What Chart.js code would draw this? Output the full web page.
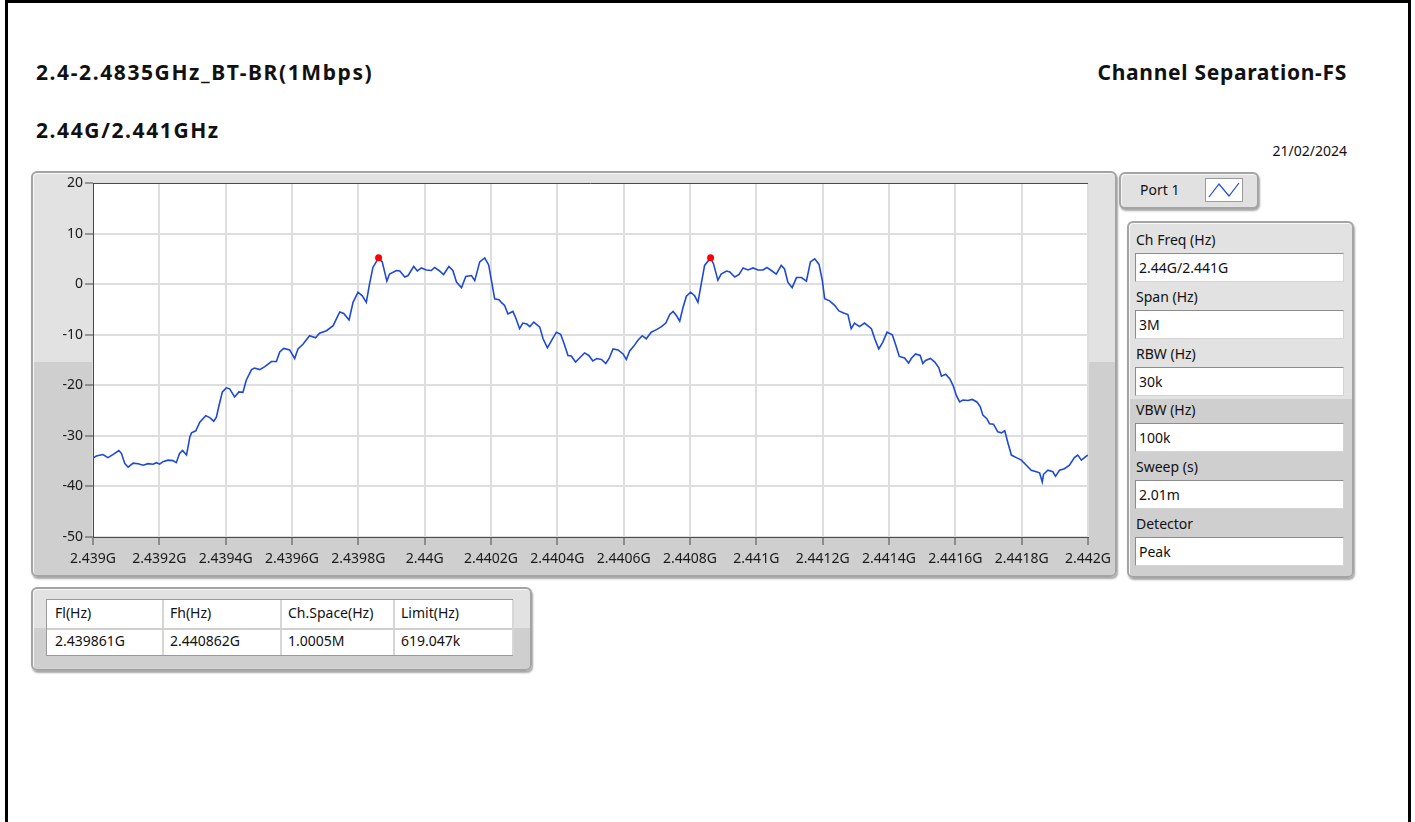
<!DOCTYPE html>
<html>
<head>
<meta charset="utf-8">
<script src="https://cdn.jsdelivr.net/npm/chart.js@4.4.1/dist/chart.umd.min.js"></script>
<style>
  html, body { margin: 0; padding: 0; background: #fff; }
  body { width: 1415px; height: 822px; position: relative; overflow: hidden;
         font-family: "Noto Sans", sans-serif; color: #111; }
  .frame { position: absolute; left: 5px; top: 0; width: 1406px; height: 840px;
           box-sizing: border-box; border: 3px solid #000; }
  .title { position: absolute; font-weight: bold; font-size: 21px; line-height: 24px; white-space: nowrap; }
  .date { position: absolute; right: 68px; top: 143px; font-size: 14px; line-height: 16px; }
  .panel { position: absolute; box-sizing: border-box; border: 2px solid #a4a4a4; border-radius: 6px;
           background: linear-gradient(#e2e2e2 0, #e2e2e2 47%, #cfcfcf 47%, #cfcfcf 100%);
           box-shadow: inset 1px 1px 0 #f7f7f7, 1px 2px 2px rgba(0,0,0,0.35); }
  .abs { position: absolute; white-space: nowrap; font-size: 14px; }
  .field { position: absolute; box-sizing: border-box; background: #fff;
           border: 1px solid #8c8c8c; border-right-color: #d4d4d4; border-bottom-color: #d4d4d4;
           font-size: 14px; line-height: 27px; padding-left: 3px; }
  .cell { position: absolute; font-size: 14px; line-height: 28px; white-space: nowrap; }
</style>
</head>
<body>
<div class="frame"></div>

<div class="title" style="left:36px;top:60px;letter-spacing:1.6px">2.4-2.4835GHz_BT-BR(1Mbps)</div>
<div class="title" style="left:36px;top:118px;letter-spacing:1.6px">2.44G/2.441GHz</div>
<div class="title" style="right:68px;top:60px;letter-spacing:0.7px">Channel Separation-FS</div>
<div class="date">21/02/2024</div>

<!-- spectrum graph -->
<div class="panel" style="left:31px;top:171px;width:1086px;height:406px"></div>
<div style="position:absolute;left:31px;top:171px;width:1086px;height:406px">
  <canvas id="spectrum" width="1086" height="406"></canvas>
</div>

<!-- trace legend -->
<div class="panel" style="left:1119px;top:172px;width:140px;height:37px;background:#e1e1e1"></div>
<div class="abs" style="left:1140px;top:180px;line-height:20px">Port 1</div>
<div style="position:absolute;left:1205px;top:178px;width:38px;height:24px;box-sizing:border-box;background:#fff;border:1px solid #9a9a9a">
  <svg width="36" height="22"><polyline points="3,18 13,5 23,17 33,4" fill="none" stroke="#1e48d8" stroke-width="1.2"/></svg>
</div>

<!-- analyzer settings -->
<div class="panel" id="settings" style="left:1127px;top:221px;width:227px;height:357px;background:linear-gradient(#e2e2e2 0, #e2e2e2 50%, #cfcfcf 50%, #cfcfcf 100%)"></div>

<!-- result table -->
<div class="panel" style="left:31px;top:587px;width:501px;height:84px;background:linear-gradient(#e2e2e2 0, #e2e2e2 49%, #cfcfcf 49%, #cfcfcf 100%)"></div>
<div id="results" style="position:absolute;left:46px;top:599px;width:467px;height:57px;box-sizing:border-box;background:#fff;border:1px solid #9a9a9a"></div>

<script>
// Spectrum trace, frequency offset from 2439 MHz and level in dBm
const startMHz = 2439;
const offsetMHz = [
  0.000, 0.010, 0.030, 0.045, 0.060, 0.078, 0.086, 0.096, 0.106, 0.121,
  0.136, 0.151, 0.166, 0.181, 0.191, 0.201, 0.211, 0.226, 0.241, 0.251,
  0.261, 0.270, 0.282, 0.292, 0.297, 0.310, 0.322, 0.340, 0.352, 0.364,
  0.372, 0.380, 0.390, 0.402, 0.412, 0.427, 0.440, 0.452, 0.462, 0.478,
  0.487, 0.503, 0.518, 0.538, 0.553, 0.563, 0.575, 0.593, 0.608, 0.618,
  0.633, 0.653, 0.671, 0.683, 0.704, 0.724, 0.744, 0.756, 0.772, 0.784,
  0.799, 0.812, 0.824, 0.834, 0.844, 0.861, 0.872, 0.886, 0.894, 0.915,
  0.925, 0.940, 0.950, 0.967, 0.978, 0.990, 1.005, 1.020, 1.030, 1.043,
  1.057, 1.073, 1.085, 1.096, 1.111, 1.124, 1.141, 1.151, 1.166, 1.181,
  1.193, 1.203, 1.211, 1.224, 1.231, 1.241, 1.251, 1.266, 1.276, 1.286,
  1.296, 1.308, 1.317, 1.329, 1.347, 1.357, 1.370, 1.382, 1.397, 1.410,
  1.422, 1.432, 1.442, 1.455, 1.467, 1.482, 1.495, 1.507, 1.519, 1.533,
  1.546, 1.556, 1.568, 1.583, 1.598, 1.608, 1.618, 1.630, 1.643, 1.656,
  1.668, 1.683, 1.699, 1.714, 1.727, 1.739, 1.749, 1.759, 1.769, 1.779,
  1.789, 1.802, 1.814, 1.824, 1.834, 1.844, 1.862, 1.871, 1.884, 1.894,
  1.910, 1.920, 1.935, 1.948, 1.960, 1.975, 1.990, 2.005, 2.020, 2.032,
  2.045, 2.060, 2.075, 2.085, 2.095, 2.108, 2.121, 2.136, 2.151, 2.163,
  2.176, 2.189, 2.199, 2.206, 2.221, 2.236, 2.249, 2.263, 2.276, 2.286,
  2.296, 2.311, 2.326, 2.347, 2.357, 2.369, 2.381, 2.394, 2.410, 2.420,
  2.431, 2.447, 2.459, 2.467, 2.480, 2.494, 2.502, 2.510, 2.525, 2.538,
  2.550, 2.558, 2.571, 2.583, 2.593, 2.603, 2.613, 2.623, 2.638, 2.651,
  2.665, 2.675, 2.683, 2.695, 2.703, 2.715, 2.728, 2.739, 2.749, 2.759,
  2.769, 2.784, 2.799, 2.814, 2.829, 2.844, 2.854, 2.862, 2.866, 2.879,
  2.894, 2.902, 2.914, 2.929, 2.944, 2.959, 2.969, 2.980, 2.995, 3.000
];
const levelDbm = [
  -34.4, -34.0, -33.7, -34.3, -33.7, -32.9, -33.5, -35.5, -36.2, -35.4,
  -35.5, -35.8, -35.5, -35.6, -35.3, -35.6, -35.1, -34.8, -34.9, -35.3,
  -33.5, -32.9, -33.8, -30.2, -29.4, -29.0, -27.3, -26.0, -26.4, -27.1,
  -26.3, -24.0, -21.3, -20.5, -20.7, -22.3, -21.3, -21.4, -19.0, -16.9,
  -16.6, -16.9, -16.3, -15.3, -15.3, -13.4, -12.7, -13.0, -14.7, -12.8,
  -11.9, -10.2, -10.6, -9.7, -9.2, -8.2, -5.5, -5.8, -7.1, -3.6,
  -1.6, -2.3, -3.6, 0.1, 3.3, 5.2, 4.4, 0.6, 2.0, 2.7,
  2.6, 1.4, 1.7, 3.5, 2.6, 3.2, 2.8, 2.7, 3.3, 2.7,
  1.9, 3.5, 2.7, 0.4, -0.7, 1.5, 1.7, 0.7, 4.4, 5.2,
  3.8, 0.1, -2.9, -3.1, -3.6, -4.2, -5.9, -5.4, -6.9, -8.8,
  -7.7, -7.9, -8.4, -7.5, -8.5, -10.8, -12.6, -11.2, -9.5, -9.9,
  -12.1, -14.1, -14.2, -15.4, -14.6, -13.6, -14.1, -15.2, -14.7, -14.9,
  -15.7, -14.7, -12.8, -13.0, -13.8, -14.9, -13.2, -12.3, -11.1, -10.2,
  -10.8, -9.5, -9.0, -8.4, -7.7, -6.0, -5.4, -6.2, -7.3, -4.6,
  -2.4, -1.6, -2.3, -3.6, 0.1, 3.7, 5.2, 4.0, 0.8, 2.0,
  2.6, 2.4, 1.4, 1.9, 3.2, 2.8, 3.2, 2.8, 2.8, 3.3,
  2.7, 2.0, 3.7, 3.0, 0.4, -0.7, 1.3, 1.3, 0.6, 4.4,
  5.0, 3.9, 0.7, -2.9, -3.3, -4.2, -5.3, -5.7, -6.0, -8.8,
  -7.7, -8.4, -7.7, -8.8, -10.8, -12.8, -11.5, -9.5, -10.0, -12.0,
  -14.3, -14.6, -15.6, -14.7, -13.8, -14.1, -15.7, -15.1, -14.7, -15.4,
  -16.5, -18.2, -17.8, -18.7, -20.0, -22.0, -23.3, -22.9, -23.0, -22.8,
  -23.3, -24.2, -25.9, -26.6, -27.6, -27.7, -29.2, -29.4, -29.0, -31.5,
  -33.8, -34.3, -34.8, -35.8, -36.8, -37.1, -37.3, -39.1, -37.6, -36.8,
  -37.1, -38.0, -36.8, -36.5, -35.8, -34.3, -33.8, -34.8, -34.0, -33.8
];

// Fl / Fh markers (MHz, dBm)
const markerMHz = [2439.861, 2440.862];
const markerDbm = [5.2, 5.2];

// Axis ticks
const xTickMHz = [2439.0, 2439.2, 2439.4, 2439.6, 2439.8, 2440.0, 2440.2, 2440.4,
                  2440.6, 2440.8, 2441.0, 2441.2, 2441.4, 2441.6, 2441.8, 2442.0];
const xTickLabels = ['2.439G', '2.4392G', '2.4394G', '2.4396G', '2.4398G', '2.44G', '2.4402G', '2.4404G',
                     '2.4406G', '2.4408G', '2.441G', '2.4412G', '2.4414G', '2.4416G', '2.4418G', '2.442G'];
const yTicks = [20, 10, 0, -10, -20, -30, -40, -50];

// Side panel and result table text
const settingNames = ['Ch Freq (Hz)', 'Span (Hz)', 'RBW (Hz)', 'VBW (Hz)', 'Sweep (s)', 'Detector'];
const settingValues = ['2.44G/2.441G', '3M', '30k', '100k', '2.01m', 'Peak'];
const resultHeaders = ['Fl(Hz)', 'Fh(Hz)', 'Ch.Space(Hz)', 'Limit(Hz)'];
const resultValues = ['2.439861G', '2.440862G', '1.0005M', '619.047k'];

// settings panel
const settings = document.getElementById('settings');
settingNames.forEach((name, i) => {
  const boxTop = 30 + i * 56.8;
  const lab = document.createElement('div');
  lab.className = 'abs';
  lab.style.cssText = `left:7px;top:${boxTop - 27}px;line-height:27px;`;
  lab.textContent = name;
  settings.appendChild(lab);
  const field = document.createElement('div');
  field.className = 'field';
  field.style.cssText = `left:6px;top:${boxTop}px;width:209px;height:29px;`;
  field.textContent = settingValues[i];
  settings.appendChild(field);
});

// result table
const results = document.getElementById('results');
const colEdges = [0, 115, 233, 346, 465];
colEdges.slice(1).forEach(x => {
  const line = document.createElement('div');
  line.style.cssText = `position:absolute;left:${x}px;top:0;width:2px;height:55px;background:#d6d6d6;`;
  results.appendChild(line);
});
const sep = document.createElement('div');
sep.style.cssText = 'position:absolute;left:0;top:28px;width:465px;height:2px;background:#cfcfcf;';
results.appendChild(sep);
resultHeaders.forEach((h, i) => {
  const c = document.createElement('div');
  c.className = 'cell';
  c.style.cssText = `left:${colEdges[i] + 8}px;top:-1px;`;
  c.textContent = h;
  results.appendChild(c);
  const v = document.createElement('div');
  v.className = 'cell';
  v.style.cssText = `left:${colEdges[i] + 8}px;top:27px;`;
  v.textContent = resultValues[i];
  results.appendChild(v);
});

// white plot area and dark top edge
const plotFrame = {
  id: 'plotFrame',
  beforeDraw(chart) {
    const { ctx, chartArea: a } = chart;
    ctx.save();
    ctx.fillStyle = '#ffffff';
    ctx.fillRect(a.left, a.top, a.right - a.left, a.bottom - a.top);
    ctx.restore();
  },
  afterDraw(chart) {
    const { ctx, chartArea: a } = chart;
    ctx.save();
    ctx.strokeStyle = '#4a4a4a';
    ctx.lineWidth = 1;
    ctx.beginPath();
    ctx.moveTo(a.left, a.top + 0.5);
    ctx.lineTo(a.right, a.top + 0.5);
    ctx.stroke();
    ctx.restore();
  }
};

const tracePoints = offsetMHz.map((o, i) => ({ x: startMHz + o, y: levelDbm[i] }));
const markerPoints = markerMHz.map((f, i) => ({ x: f, y: markerDbm[i] }));

new Chart(document.getElementById('spectrum'), {
  type: 'line',
  data: {
    datasets: [
      {
        label: 'Markers',
        data: markerPoints,
        showLine: false,
        pointRadius: 3.5,
        pointBackgroundColor: '#ff0000',
        pointBorderColor: '#ff0000',
        pointBorderWidth: 0,
        order: 0
      },
      {
        label: 'Port 1',
        data: tracePoints,
        borderColor: '#1e48d8',
        borderWidth: 1.6,
        pointRadius: 0,
        tension: 0,
        order: 1
      }
    ]
  },
  options: {
    responsive: false,
    animation: false,
    devicePixelRatio: 1,
    layout: { padding: { top: 12, right: 28, bottom: 0, left: 0 } },
    plugins: { legend: { display: false }, tooltip: { enabled: false } },
    scales: {
      x: {
        type: 'linear',
        min: 2439,
        max: 2442,
        afterBuildTicks: axis => { axis.ticks = xTickMHz.map(v => ({ value: v })); },
        afterFit: axis => { axis.height = 40; },
        grid: { color: '#dedede', lineWidth: 2, tickColor: '#4a4a4a', tickLength: 8, tickWidth: 1 },
        border: { color: '#4a4a4a', width: 1 },
        ticks: {
          autoSkip: false, maxRotation: 0, padding: 6,
          color: '#1a1a1a', font: { family: 'Noto Sans', size: 14 },
          callback: (v, i) => xTickLabels[i]
        }
      },
      y: {
        min: -50,
        max: 20,
        afterBuildTicks: axis => { axis.ticks = yTicks.map(v => ({ value: v })); },
        afterFit: axis => { axis.width = 62; },
        grid: { color: '#dedede', lineWidth: 2, tickColor: '#4a4a4a', tickLength: 8, tickWidth: 1 },
        border: { color: '#4a4a4a', width: 1 },
        ticks: {
          padding: 2,
          color: '#1a1a1a', font: { family: 'Noto Sans', size: 14 },
          callback: (v, i) => String(yTicks[i])
        }
      }
    }
  },
  plugins: [plotFrame]
});
</script>
</body>
</html>
